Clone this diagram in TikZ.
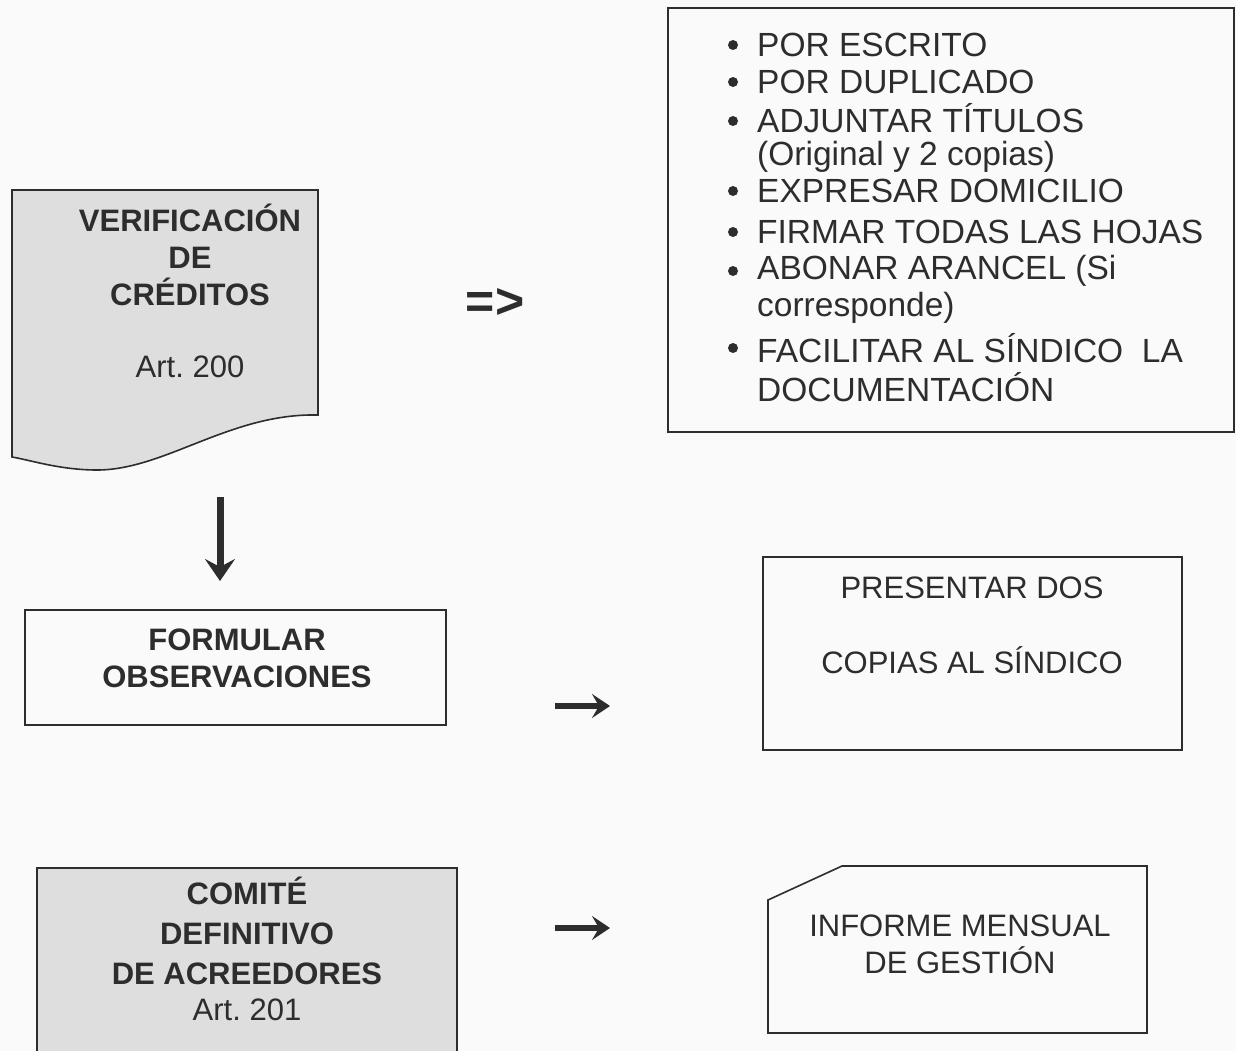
\documentclass[tikz,border=0pt]{standalone}
\usepackage{fontspec}
\setmainfont{Liberation Sans}
\usetikzlibrary{arrows.meta}
\definecolor{bg}{RGB}{250,250,250}
\definecolor{ink}{RGB}{45,45,45}
\definecolor{shade}{RGB}{222,222,222}
\frenchspacing
\tikzset{
  box/.style={draw=ink, line width=1.6pt},
  txt/.style={text=ink, align=center, font=\fontsize{31}{37}\selectfont},
  btxt/.style={text=ink, align=center, font=\fontsize{31}{37}\selectfont\bfseries},
  ltxt/.style={text=ink, anchor=west, inner sep=0pt, align=left},
  dot/.style={circle, fill=ink, inner sep=0pt, minimum size=10pt},
  arr/.style={draw=ink, line width=7pt, -{Stealth[length=22pt,width=30pt,inset=8pt]}},
  sarr/.style={draw=ink, line width=6pt, -{Stealth[length=18pt,width=24pt,inset=7pt]}},
}
\newcommand{\lf}[1]{\fontsize{33.5}{#1}\selectfont}
\begin{document}
\begin{tikzpicture}[x=1pt,y=-1pt]
\fill[bg] (0,0) rectangle (1236,1051);
\useasboundingbox (0,0) rectangle (1236,1051);
% document shape
\path[box, fill=shade] (12,190) -- (318,190) -- (318,415)
  .. controls (230,413) and (165,470) .. (97,470)
  .. controls (60,470) and (30,460) .. (12,457) -- cycle;
\node[btxt] (ver) at (190,255) {VERIFICACIÓN\\DE\\CRÉDITOS};
\node[txt] (art200) at (190,367) {Art. 200};
% list box
\draw[box] (668,8) rectangle (1234,432);
\node[txt, font=\fontsize{50}{50}\selectfont\bfseries] (impl) at (495,303) {=>};
\node[ltxt, font=\lf{37}] (i1) at (757,45) {POR ESCRITO};
\node[ltxt, font=\lf{37}] (i2) at (757,82) {POR DUPLICADO};
\node[ltxt, font=\lf{33}] (i3) at (757,137.5) {ADJUNTAR TÍTULOS\\(Original y 2 copias)};
\node[ltxt, font=\lf{37}] (i4) at (757,191) {EXPRESAR DOMICILIO};
\node[ltxt, font=\lf{37}] (i5) at (757,232) {FIRMAR TODAS LAS HOJAS};
\node[ltxt, font=\lf{37}] (i6) at (757,289.5) {ABONAR ARANCEL (Si\\corresponde)};
\node[ltxt, font=\lf{39}] (i7) at (757,367.5) {FACILITAR AL SÍNDICO\ \ LA\\DOCUMENTACIÓN};
\foreach \n/\y in {1/45,2/82,3/121,4/191,5/232,6/271,7/348}{
  \node[dot] (b\n) at (733,\y) {};
}
% formular
\node[box, minimum width=421pt, minimum height=115pt] (form) at (235.5,667.5) {};
\node[btxt] (formt) at (237,658) {FORMULAR\\OBSERVACIONES};
\coordinate (d0) at (220,497);
\coordinate (d1) at (220,581);
\draw[arr] (d0) -- (d1);
% presentar
\node[box, minimum width=419pt, minimum height=193pt] (pres) at (972.5,653.5) {};
\node[txt] (prest1) at (972,588) {PRESENTAR DOS};
\node[txt] (prest2) at (972,660) {COPIAS AL SÍNDICO};
\coordinate (a1s) at (555,706);
\coordinate (a1e) at (610,706);
\draw[sarr] (a1s) -- (a1e);
% comite
\path[box, fill=shade] (37,868) rectangle (457,1060);
\node[btxt, font=\fontsize{31}{40}\selectfont\bfseries] (com) at (247,931) {COMITÉ\\DEFINITIVO\\DE ACREEDORES};
\node[txt] (art201) at (247,1010) {Art. 201};
% informe
\path[box] (768,900) -- (842,866) -- (1147,866) -- (1147,1033) -- (768,1033) -- cycle;
\node[txt] (inf) at (960,944) {INFORME MENSUAL\\DE GESTIÓN};
\coordinate (a2s) at (555,928);
\coordinate (a2e) at (610,928);
\draw[sarr] (a2s) -- (a2e);
\end{tikzpicture}
\end{document}
